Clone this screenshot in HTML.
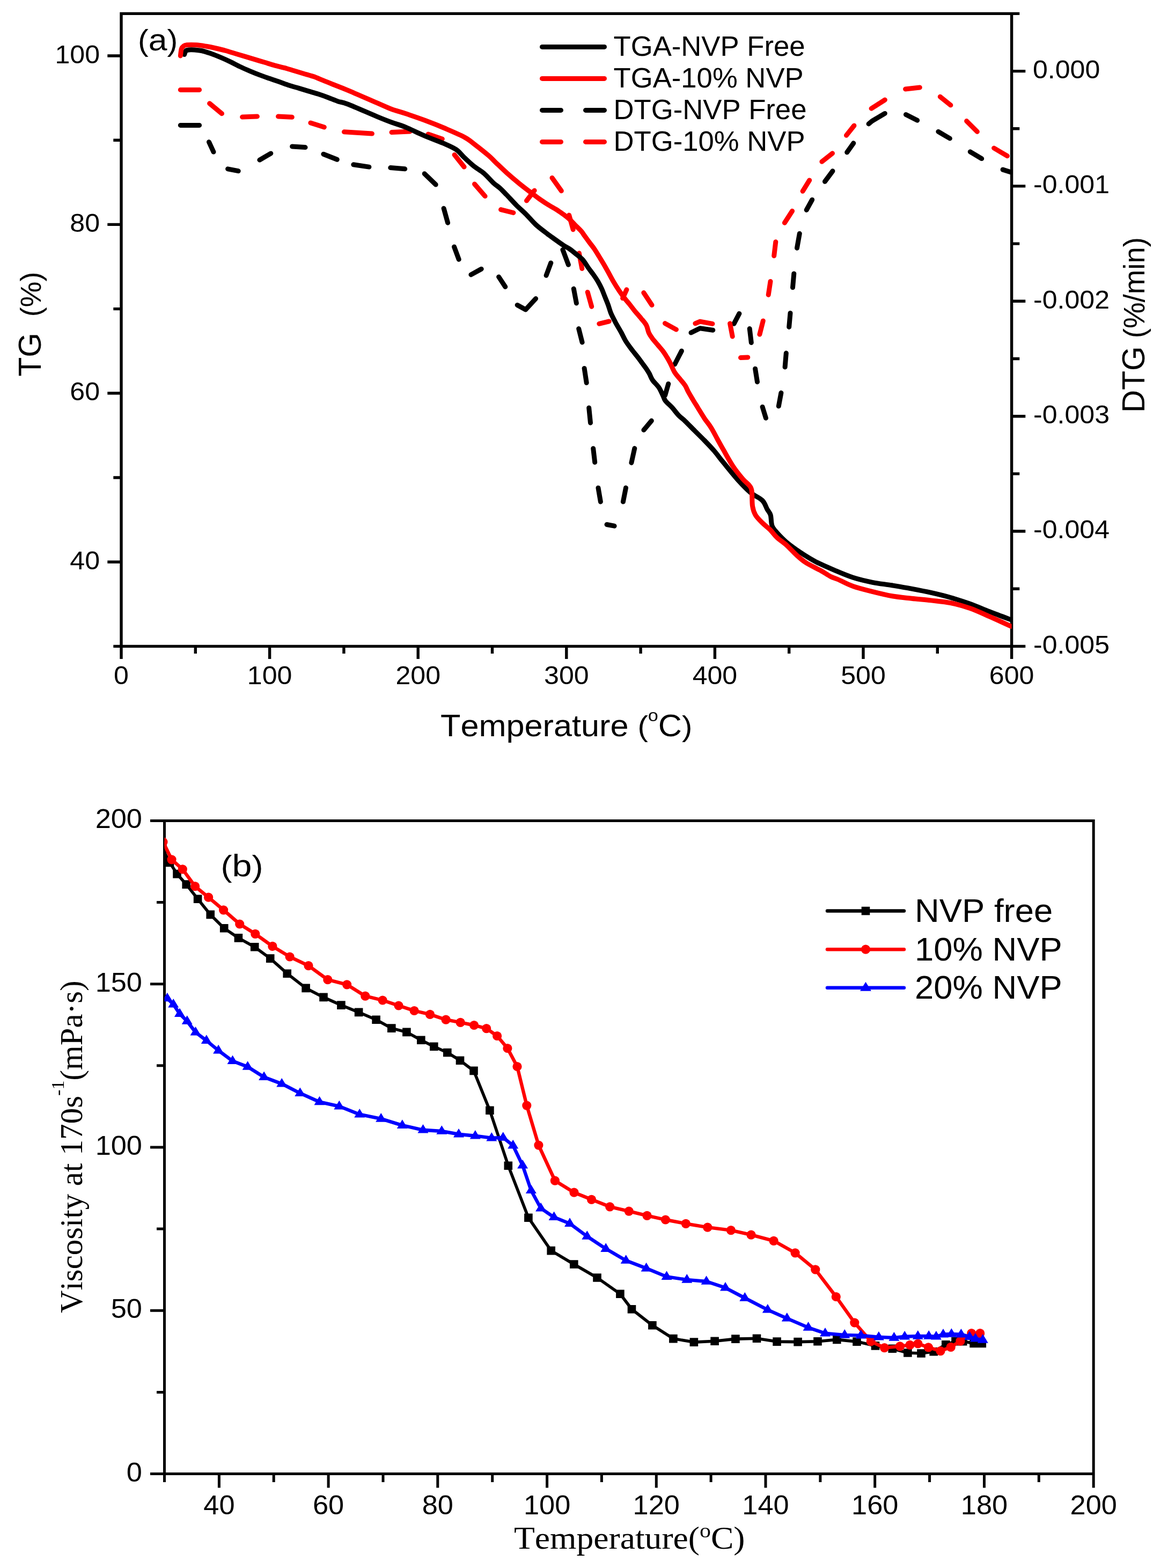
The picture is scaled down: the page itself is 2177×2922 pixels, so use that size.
<!DOCTYPE html><html><head><meta charset="utf-8"><title>TGA/DTG and viscosity</title>
<style>html,body{margin:0;padding:0;background:#fff;}svg{display:block;}text{font-kerning:none;font-feature-settings:"kern" 0;}</style></head><body>
<svg width="2177" height="2922" viewBox="0 0 2177 2922">
<rect width="2177" height="2922" fill="#fff"/>
<defs><clipPath id="ca"><rect x="226" y="25.4" width="1659.6" height="1179"/></clipPath>
<clipPath id="cb"><rect x="306.5" y="1529.4" width="1731.7" height="1217.1"/></clipPath></defs>
<path d="M226 25.4H1885.6V1204.4H226ZM226 1204.4H214M226 1047.2H203M226 890H214M226 732.8H203M226 575.6H214M226 418.4H203M226 261.2H214M226 104H203M1885.6 1204.4H1908.6M1885.6 1097.2H1897.6M1885.6 990H1908.6M1885.6 882.9H1897.6M1885.6 775.7H1908.6M1885.6 668.5H1897.6M1885.6 561.3H1908.6M1885.6 454.1H1897.6M1885.6 346.9H1908.6M1885.6 239.8H1897.6M1885.6 132.6H1908.6M1885.6 25.4H1897.6M226 1204.4V1225.4M364.3 1204.4V1215.4M502.6 1204.4V1225.4M640.9 1204.4V1215.4M779.2 1204.4V1225.4M917.5 1204.4V1215.4M1055.8 1204.4V1225.4M1194.1 1204.4V1215.4M1332.4 1204.4V1225.4M1470.7 1204.4V1215.4M1609 1204.4V1225.4M1747.3 1204.4V1215.4M1885.6 1204.4V1225.4" fill="none" stroke="#000" stroke-width="5.4" stroke-linecap="square"/>
<g clip-path="url(#ca)" fill="none" stroke-linejoin="round" stroke-linecap="round">
<path d="M336.3 233.4L371.6 233.4M389.5 264.6L398 283.1M424.6 314.8L444.2 318.7M483.9 298.1L504.8 285.9M544.6 273L569 274.6M602.9 287.2L628.3 297.3M658.8 306.8L687.9 311.1M727.8 312.6L754.7 314.8M791.2 323.7L812.2 344M827.1 388.3L834.6 415.2M846.5 459.9L855.2 483.4M877.9 511.9L897.2 501.3M929.6 515.9L941.8 534.5M964.2 568.5L979.7 577L998.6 556.5M1018.1 513.3L1026.8 489.9M1048.9 465.4L1059.4 493.3M1069.3 538.1L1074.4 565M1078.7 612.6L1085.1 637.9M1089.1 686.4L1093.2 713.3M1097.7 760L1100.5 787.9M1105.7 835.7L1108.7 861.4M1115 909.2L1119.4 935M1131 977.5L1145.1 980.2M1161.4 935.1L1166.5 909.1M1176.9 862.4L1182.8 835.6M1199.9 801.3L1214.3 784.1M1239.6 736.7L1245.8 715.3M1257.7 678.8L1270.4 654.1M1288 620.1L1304.7 611.7L1328.8 615.2M1368.1 603.2L1377.9 584.4M1397.2 612.5L1400.3 638.5M1407.6 687.2L1411.5 711.7M1421.1 758.3L1427.5 779.1M1451.3 756.9L1455.9 732.1M1463.1 684.1L1465.3 658.1M1470.7 609.4L1473 583.5M1477.5 535.8L1479.8 509.9M1485.5 462.2L1490.3 435.3M1503.2 391.3L1513.7 372.3M1537.5 338.3L1552 318.8M1578.7 283.8L1590.8 266.8M1619.1 230.9L1625.3 225.6L1649.3 211.4M1688.5 213.6L1709.7 224.3M1748.9 245.3L1770.4 258M1808.3 282.8L1829.7 295.6M1869.1 316.1L1885.1 321.1" stroke="#000" stroke-width="9"/>
<path d="M336.3 167.4L371.6 167.4M390.6 192.8L413.5 211.7M451.6 218L479.4 217M518.5 217L544.3 218.3M578.9 229L604.3 237M641.4 245.8L693.4 249.1M730 246.5L764.1 245M798.1 250L824.3 258.9M847.1 288.5L865.1 311.1M884.5 343L904.1 365.6M933.6 390.6L956.9 396.5M981.5 373.9L996.1 355.1M1029 331.4L1046.3 355.7M1060.7 400.9L1068.2 427.8M1079.4 471.8L1084.8 500.5M1095.2 544.4L1102.7 571.3M1116.8 603.3L1135.2 598.9M1160.6 555.8L1167.9 539.8M1199.8 545.5L1215 568.5M1239.5 602.6L1260.4 614.1M1295.9 602.8L1304.7 599.1L1327.9 603.4M1360.6 602.8L1365.2 627M1380.5 666.5L1393.8 665.9M1415.9 623.1L1422.3 597.9M1432.2 549.4L1436 524.4M1442.7 476.8L1445.8 450.8M1462.4 415.3L1476.6 393.2M1496.1 356.3L1508.7 335.9M1531.9 301.2L1551.5 285.7M1577.5 252.3L1591.9 234.1M1624.1 202.2L1649.4 186.1M1687.6 166L1714.3 163M1752.3 180.3L1771.9 195.9M1801.6 225.6L1821.4 245.4M1852.6 276L1877.4 290.7" stroke="#ff0000" stroke-width="9"/>
<path d="M343.6 101.5C344 100.5 345.2 96.8 346 95.5C346.8 94.2 346.3 94.1 348.2 93.6C350.1 93.1 352.7 92.5 357.2 92.7C361.7 92.9 369.3 93.3 375.4 94.5C381.5 95.7 387.6 97.9 393.6 100C399.7 102.1 405.6 104.6 411.7 107.2C417.8 109.8 423.8 112.5 429.9 115.4C435.9 118.3 441.9 121.6 448 124.5C454.1 127.4 460.1 130 466.2 132.6C472.3 135.2 478.3 137.6 484.4 139.9C490.4 142.2 496.4 144.2 502.5 146.3C508.6 148.4 514.7 150.5 520.7 152.6C526.8 154.7 532.8 157 538.8 159C544.8 161 551 162.6 557 164.4C563 166.2 569.1 168.1 575.1 169.9C581.1 171.7 587.2 173.3 593.3 175.3C599.4 177.3 605.4 179.4 611.5 181.7C617.6 184 623.9 186.8 630 188.9C636.1 191 635.8 189.3 647.9 194C660 198.7 688.7 211.4 702.4 217.1C716.1 222.8 721 224.7 730 228C739 231.3 745.9 232.9 756.3 237.2C766.7 241.5 780.5 248.4 792.6 253.6C804.7 258.8 819.3 263.9 829 268.1C838.7 272.3 844.7 274.8 850.7 279C856.8 283.2 859.8 288.4 865.3 293.5C870.8 298.6 877.3 304.9 883.4 309.8C889.5 314.7 895.5 317.4 901.6 322.6C907.7 327.8 914.9 336.5 920 341.2C925.1 345.9 928.1 347.2 932.1 350.8C936.1 354.4 939.2 357.8 944.2 363C949.2 368.2 956.4 376.2 962.4 382.3C968.4 388.4 974.5 393.2 980.5 399.3C986.5 405.4 992.6 413 998.7 418.6C1004.8 424.2 1010.9 428.6 1016.9 433.2C1022.9 437.8 1029.5 442.5 1035 446.5C1040.5 450.5 1045.5 454.1 1050 457C1054.5 459.9 1058.1 461.4 1062.1 464.2C1066.1 467 1070.2 470.6 1074.2 473.9C1078.2 477.2 1082.6 480 1086.3 484.2C1090 488.4 1093.2 494.4 1096.5 499C1099.8 503.6 1103.2 507.8 1106.2 512C1109.2 516.2 1111.8 520 1114.3 524.3C1116.8 528.6 1119.3 533.4 1121.4 537.9C1123.5 542.4 1124.8 546.4 1126.8 551.4C1128.8 556.4 1131.3 562.2 1133.3 567.6C1135.3 573 1136.5 578.4 1138.7 583.8C1141 589.2 1143.7 594.2 1146.8 600.1C1149.9 606 1154.4 613.2 1157.6 619C1160.8 624.8 1162.6 629.6 1165.9 635C1169.2 640.4 1173.6 646.2 1177.5 651.4C1181.4 656.6 1185.9 661.8 1189.1 666C1192.3 670.2 1194.4 673.2 1196.9 676.6C1199.4 680 1202 683.3 1204.2 686.6C1206.4 689.9 1208.3 692.7 1210.3 696.3C1212.3 699.9 1213.3 704.1 1216.3 708.4C1219.2 712.7 1224.7 717.1 1228 722C1231.3 726.9 1233.9 733.8 1236 738C1238.1 742.2 1237.7 743.7 1240.5 747.2C1243.3 750.8 1248.6 754.9 1252.6 759.3C1256.6 763.7 1260.7 769.6 1264.7 773.8C1268.8 778 1271.9 779.9 1276.9 784.7C1282 789.6 1289 796.9 1295 802.9C1301 808.9 1307.2 814.8 1313.2 821C1319.2 827.2 1325.5 833.6 1331.3 840.4C1337.1 847.2 1340.8 852.7 1348.2 861.7C1355.6 870.7 1366.9 885 1375.4 894.4C1383.9 903.8 1391.4 911.6 1399 918C1406.6 924.4 1415.6 927.4 1420.8 932.5C1426 937.6 1427.3 944.4 1429.9 948.9C1432.5 953.4 1434.7 954.7 1436.2 959.8C1437.7 964.9 1437 974.2 1439 979.7C1441 985.2 1443.5 987.4 1448 992.5C1452.5 997.6 1458.6 1004.2 1466.2 1010.6C1473.8 1017 1484.3 1024.5 1493.4 1030.6C1502.5 1036.6 1510.1 1041.5 1520.7 1046.9C1531.3 1052.4 1545.5 1058.4 1557 1063.3C1568.5 1068.2 1578.5 1072.6 1590 1076.3C1601.5 1080 1614.2 1082.9 1626.3 1085.3C1638.4 1087.7 1650.5 1088.8 1662.6 1090.8C1674.7 1092.8 1686.9 1094.8 1699 1097.1C1711.1 1099.4 1723.2 1101.7 1735.3 1104.4C1747.4 1107.1 1759.5 1110 1771.6 1113.5C1783.7 1117 1795.8 1120.9 1807.9 1125.3C1820 1129.7 1831.4 1134.8 1844.2 1139.8C1857 1144.8 1877.8 1152.5 1884.5 1155" stroke="#000" stroke-width="9"/>
<path d="M336.4 104C336.7 101.8 337.3 94 338.2 91C339.1 88 340.3 87.2 342 86C343.7 84.8 344.1 84.2 348.2 83.8C352.2 83.4 360.2 83.4 366.3 83.8C372.4 84.2 378.4 85.3 384.5 86.3C390.6 87.3 396.6 88.6 402.6 90C408.7 91.4 414.7 92.8 420.8 94.5C426.9 96.2 432.9 98.2 439 100C445.1 101.8 451.1 103.6 457.1 105.4C463.2 107.2 469.2 109.1 475.3 110.9C481.4 112.7 487.3 114.5 493.4 116.3C499.4 118.1 505.6 120.1 511.6 121.8C517.7 123.5 523.7 124.7 529.7 126.3C535.8 127.9 541.8 129.9 547.9 131.7C554 133.5 560 135.4 566.1 137.2C572.2 139 578.2 140.5 584.2 142.6C590.2 144.7 596.4 147.5 602.4 149.9C608.4 152.3 612.9 154.2 620.5 157.2C628.1 160.2 634.2 162.3 647.9 168.1C661.5 173.8 688.7 185.8 702.4 191.7C716.1 197.6 721 200.2 730 203.5C739 206.8 745.9 208.3 756.3 211.8C766.7 215.3 780.5 220 792.6 224.5C804.7 229 816.9 233.8 829 239C841.1 244.2 856.2 250.6 865.3 255.4C874.4 260.2 875.8 262.4 883.4 268.1C891 273.9 904 284.2 910.7 289.9C917.4 295.6 918 297.1 923.6 302.4C929.2 307.7 936.7 315.1 944.2 321.8C951.7 328.5 960.7 336.1 968.4 342.4C976.1 348.6 984.2 354.7 990.2 359.3C996.2 363.9 999.2 366.4 1004.7 370.2C1010.2 374 1016.8 378.5 1022.9 382.3C1029 386.1 1035 389.2 1041.1 393.2C1047.1 397.2 1054.2 402.3 1059.2 406.5C1064.2 410.7 1067.3 414.6 1071.3 418.6C1075.3 422.7 1080.4 427.4 1083.4 430.8C1086.4 434.2 1086.8 435.6 1089.3 439C1091.8 442.4 1095.4 447.4 1098.4 451.5C1101.4 455.6 1104.5 459.1 1107.5 463.5C1110.5 467.9 1113.6 473.1 1116.6 478C1119.6 482.9 1122.7 487.8 1125.7 493C1128.7 498.2 1131.7 503.6 1134.7 509C1137.7 514.4 1140.5 520 1143.8 525.5C1147 531 1150.8 537 1154.2 542C1157.6 547 1160.7 551.3 1163.9 555.5C1167.1 559.7 1170.4 563.2 1173.6 567.2C1176.8 571.2 1179.8 575.4 1183.3 579.8C1186.8 584.1 1191.4 588.9 1194.9 593.3C1198.5 597.6 1202.2 601.4 1204.6 605.9C1207 610.4 1207.5 616.2 1209.4 620.4C1211.3 624.6 1213.5 627.4 1216.2 631.1C1219 634.8 1222.7 638.8 1225.9 642.7C1229.1 646.6 1232.7 650.4 1235.6 654.3C1238.5 658.2 1241 662.3 1243.3 666C1245.6 669.7 1246.8 672 1249.2 676.6C1251.6 681.2 1254.5 689 1257.5 693.9C1260.5 698.8 1264 702 1267.2 706C1270.4 710 1274.3 714.1 1276.9 718.1C1279.5 722.1 1280.5 725.8 1282.9 730.2C1285.3 734.6 1288.4 739.7 1291.4 744.7C1294.4 749.8 1297.5 754.6 1301.1 760.5C1304.7 766.4 1309.2 773.9 1313.2 779.9C1317.2 785.9 1321.3 790.4 1325.3 796.8C1329.3 803.1 1333.2 811.1 1337 818C1340.8 824.9 1343.3 829.6 1348.2 838.1C1353.1 846.6 1360.2 859.9 1366.3 869C1372.3 878.1 1379.4 886.6 1384.5 892.6C1389.6 898.6 1394.2 901.4 1397 905.1C1399.8 908.8 1400.3 908.6 1401.2 915C1402.1 921.4 1401.4 935.9 1402.6 943.4C1403.8 950.9 1405.1 954.6 1408.1 959.8C1411.1 964.9 1416.3 969.8 1420.8 974.3C1425.3 978.8 1430.8 982.5 1435.3 987C1439.8 991.5 1442.8 996.6 1448 1001.5C1453.2 1006.4 1460.1 1010.6 1466.2 1016.1C1472.3 1021.6 1478.4 1028.8 1484.4 1034.2C1490.5 1039.7 1495 1044 1502.5 1048.8C1510 1053.6 1522.1 1059.1 1529.7 1063.3C1537.3 1067.5 1542.5 1071.4 1547.9 1074.2C1553.4 1077 1555.4 1076.9 1562.4 1080C1569.4 1083.1 1579.3 1088.8 1590 1092.6C1600.7 1096.4 1614.2 1099.6 1626.3 1102.6C1638.4 1105.6 1650.5 1108.7 1662.6 1110.8C1674.7 1112.9 1686.9 1113.9 1699 1115.3C1711.1 1116.7 1723.2 1117.5 1735.3 1118.9C1747.4 1120.3 1759.5 1121.1 1771.6 1123.5C1783.7 1125.9 1795.8 1129.3 1807.9 1133.5C1820 1137.7 1831.4 1143.3 1844.2 1148.9C1857 1154.5 1877.8 1164.2 1884.5 1167.2" stroke="#ff0000" stroke-width="9"/>
</g>
<text transform="translate(186,1060.8) scale(1.0590,1)" font-family='"Liberation Sans", Arial, sans-serif' font-size="47.3" text-anchor="end">40</text>
<text transform="translate(186,746.4) scale(1.0590,1)" font-family='"Liberation Sans", Arial, sans-serif' font-size="47.3" text-anchor="end">60</text>
<text transform="translate(186,432) scale(1.0590,1)" font-family='"Liberation Sans", Arial, sans-serif' font-size="47.3" text-anchor="end">80</text>
<text transform="translate(186,117.6) scale(1.0590,1)" font-family='"Liberation Sans", Arial, sans-serif' font-size="47.3" text-anchor="end">100</text>
<text transform="translate(226,1274.6) scale(1.0590,1)" font-family='"Liberation Sans", Arial, sans-serif' font-size="47.3" text-anchor="middle">0</text>
<text transform="translate(502.6,1274.6) scale(1.0590,1)" font-family='"Liberation Sans", Arial, sans-serif' font-size="47.3" text-anchor="middle">100</text>
<text transform="translate(779.2,1274.6) scale(1.0590,1)" font-family='"Liberation Sans", Arial, sans-serif' font-size="47.3" text-anchor="middle">200</text>
<text transform="translate(1055.8,1274.6) scale(1.0590,1)" font-family='"Liberation Sans", Arial, sans-serif' font-size="47.3" text-anchor="middle">300</text>
<text transform="translate(1332.4,1274.6) scale(1.0590,1)" font-family='"Liberation Sans", Arial, sans-serif' font-size="47.3" text-anchor="middle">400</text>
<text transform="translate(1609,1274.6) scale(1.0590,1)" font-family='"Liberation Sans", Arial, sans-serif' font-size="47.3" text-anchor="middle">500</text>
<text transform="translate(1885.6,1274.6) scale(1.0590,1)" font-family='"Liberation Sans", Arial, sans-serif' font-size="47.3" text-anchor="middle">600</text>
<text transform="translate(1926,1217.8) scale(1.0590,1)" font-family='"Liberation Sans", Arial, sans-serif' font-size="47.3" text-anchor="start">-0.005</text>
<text transform="translate(1926,1003.4) scale(1.0590,1)" font-family='"Liberation Sans", Arial, sans-serif' font-size="47.3" text-anchor="start">-0.004</text>
<text transform="translate(1926,789.1) scale(1.0590,1)" font-family='"Liberation Sans", Arial, sans-serif' font-size="47.3" text-anchor="start">-0.003</text>
<text transform="translate(1926,574.7) scale(1.0590,1)" font-family='"Liberation Sans", Arial, sans-serif' font-size="47.3" text-anchor="start">-0.002</text>
<text transform="translate(1926,360.3) scale(1.0590,1)" font-family='"Liberation Sans", Arial, sans-serif' font-size="47.3" text-anchor="start">-0.001</text>
<text transform="translate(1925,146) scale(1.0590,1)" font-family='"Liberation Sans", Arial, sans-serif' font-size="47.3" text-anchor="start">0.000</text>
<text transform="translate(76,701.5) rotate(-90)" font-family='"Liberation Sans", Arial, sans-serif' font-size="58.5" text-anchor="start">TG<tspan font-size="53.8">&#160;&#160;(%)</tspan></text>
<text transform="translate(2133,769) rotate(-90)" font-family='"Liberation Sans", Arial, sans-serif' font-size="58.5" text-anchor="start">DTG<tspan font-size="54.7">&#160;(%/min)</tspan></text>
<text transform="translate(821,1372.1) scale(1.0650,1)" font-family='"Liberation Sans", Arial, sans-serif' font-size="57.5" text-anchor="start">Temperature <tspan font-size="54.5">(</tspan><tspan font-size="32.2" dy="-27.8">o</tspan><tspan dy="27.8">C</tspan><tspan font-size="54.5">)</tspan></text>
<text transform="translate(257,93.5) scale(1.0820,1)" font-family='"Liberation Sans", Arial, sans-serif' font-size="57.8" text-anchor="start"><tspan font-size="54.9">(</tspan>a<tspan font-size="54.9">)</tspan></text>
<path d="M1010.5 87.4H1126.5" stroke="#000" stroke-width="9" stroke-linecap="round"/>
<text transform="translate(1143.5,103.9) scale(1.0250,1)" font-family='"Liberation Sans", Arial, sans-serif' font-size="51.4" text-anchor="start">TGA-NVP Free</text>
<path d="M1010.5 146.4H1126.5" stroke="#ff0000" stroke-width="9" stroke-linecap="round"/>
<text transform="translate(1143.5,162.9) scale(1.0250,1)" font-family='"Liberation Sans", Arial, sans-serif' font-size="51.4" text-anchor="start">TGA-10% NVP</text>
<path d="M1010.5 205.4H1045.5M1091.5 205.4H1126.5" stroke="#000" stroke-width="9" stroke-linecap="round"/>
<text transform="translate(1143.5,221.9) scale(1.0250,1)" font-family='"Liberation Sans", Arial, sans-serif' font-size="51.4" text-anchor="start">DTG-NVP Free</text>
<path d="M1010.5 264.4H1045.5M1091.5 264.4H1126.5" stroke="#ff0000" stroke-width="9" stroke-linecap="round"/>
<text transform="translate(1143.5,280.9) scale(1.0250,1)" font-family='"Liberation Sans", Arial, sans-serif' font-size="51.4" text-anchor="start">DTG-10% NVP</text>
<path d="M306.5 1529.4H2038.2V2746.5H306.5ZM306.5 2746.5H282.5M306.5 2594.4H294.5M306.5 2442.2H282.5M306.5 2290.1H294.5M306.5 2137.9H282.5M306.5 1985.8H294.5M306.5 1833.7H282.5M306.5 1681.5H294.5M306.5 1529.4H282.5M306.5 2746.5V2759.5M408.4 2746.5V2770M510.2 2746.5V2759.5M612.1 2746.5V2770M714 2746.5V2759.5M815.8 2746.5V2770M917.7 2746.5V2759.5M1019.6 2746.5V2770M1121.4 2746.5V2759.5M1223.3 2746.5V2770M1325.1 2746.5V2759.5M1427 2746.5V2770M1528.9 2746.5V2759.5M1630.7 2746.5V2770M1732.6 2746.5V2759.5M1834.5 2746.5V2770M1936.3 2746.5V2759.5M2038.2 2746.5V2770" fill="none" stroke="#000" stroke-width="5" stroke-linecap="square"/>
<g clip-path="url(#cb)">
<polyline points="303,1582 316.5,1607.5 330,1628.6 347.2,1648.1 368.6,1675.3 392.2,1704.4 417.7,1729.8 444.4,1747.9 474.7,1764.8 503.7,1786.1 535.2,1814.2 570.1,1841.4 603,1858.4 635.9,1873.1 668.6,1886.4 701.1,1900.3 729.8,1916.1 757.9,1923.4 784.8,1938.3 808.8,1950.3 833.8,1961.5 857.5,1976.2 883,1995.4 912.9,2069.2 947.3,2172.2 984.9,2269.2 1027.2,2330.6 1069.8,2356 1113,2381 1155.9,2411.2 1177.5,2439.7 1215.9,2469.7 1254.9,2494.6 1293.4,2501.1 1332.1,2499.3 1370.9,2495.1 1410.5,2494.2 1448.1,2500.1 1487.1,2500.6 1524,2499.7 1559.8,2496.4 1597,2500.1 1631.5,2507.9 1663.3,2513.3 1691.9,2521 1717,2522 1740.2,2518.8 1762.8,2505.7 1781,2499.6 1794.7,2499.6 1815.1,2503.5 1830.3,2503.5" fill="none" stroke="#000" stroke-width="5.6" stroke-linejoin="round"/>
<path d="M295.2 1574.2h15.6v15.6h-15.6ZM308.7 1599.7h15.6v15.6h-15.6ZM322.2 1620.8h15.6v15.6h-15.6ZM339.4 1640.3h15.6v15.6h-15.6ZM360.8 1667.5h15.6v15.6h-15.6ZM384.4 1696.6h15.6v15.6h-15.6ZM409.9 1722h15.6v15.6h-15.6ZM436.6 1740.1h15.6v15.6h-15.6ZM466.9 1757h15.6v15.6h-15.6ZM495.9 1778.3h15.6v15.6h-15.6ZM527.4 1806.4h15.6v15.6h-15.6ZM562.3 1833.6h15.6v15.6h-15.6ZM595.2 1850.6h15.6v15.6h-15.6ZM628.1 1865.3h15.6v15.6h-15.6ZM660.8 1878.6h15.6v15.6h-15.6ZM693.3 1892.5h15.6v15.6h-15.6ZM722 1908.3h15.6v15.6h-15.6ZM750.1 1915.6h15.6v15.6h-15.6ZM777 1930.5h15.6v15.6h-15.6ZM801 1942.5h15.6v15.6h-15.6ZM826 1953.7h15.6v15.6h-15.6ZM849.7 1968.4h15.6v15.6h-15.6ZM875.2 1987.6h15.6v15.6h-15.6ZM905.1 2061.4h15.6v15.6h-15.6ZM939.5 2164.4h15.6v15.6h-15.6ZM977.1 2261.4h15.6v15.6h-15.6ZM1019.4 2322.8h15.6v15.6h-15.6ZM1062 2348.2h15.6v15.6h-15.6ZM1105.2 2373.2h15.6v15.6h-15.6ZM1148.1 2403.4h15.6v15.6h-15.6ZM1169.7 2431.9h15.6v15.6h-15.6ZM1208.1 2461.9h15.6v15.6h-15.6ZM1247.1 2486.8h15.6v15.6h-15.6ZM1285.6 2493.3h15.6v15.6h-15.6ZM1324.3 2491.5h15.6v15.6h-15.6ZM1363.1 2487.3h15.6v15.6h-15.6ZM1402.7 2486.4h15.6v15.6h-15.6ZM1440.3 2492.3h15.6v15.6h-15.6ZM1479.3 2492.8h15.6v15.6h-15.6ZM1516.2 2491.9h15.6v15.6h-15.6ZM1552 2488.6h15.6v15.6h-15.6ZM1589.2 2492.3h15.6v15.6h-15.6ZM1623.7 2500.1h15.6v15.6h-15.6ZM1655.5 2505.5h15.6v15.6h-15.6ZM1684.1 2513.2h15.6v15.6h-15.6ZM1709.2 2514.2h15.6v15.6h-15.6ZM1732.4 2511h15.6v15.6h-15.6ZM1755 2497.9h15.6v15.6h-15.6ZM1773.2 2491.8h15.6v15.6h-15.6ZM1786.9 2491.8h15.6v15.6h-15.6ZM1807.3 2495.7h15.6v15.6h-15.6ZM1822.5 2495.7h15.6v15.6h-15.6Z" fill="#000"/>
<polyline points="304,1569 320,1601.8 340.3,1619.9 363.6,1651.7 388.6,1672.2 416.6,1695.8 446.7,1722 475.8,1740.3 507.9,1763.4 540.1,1783 575,1799.7 610.8,1825.7 646.6,1834.8 680.8,1856.2 713.1,1864 743,1874 772.1,1883.5 801.5,1890.4 831.1,1900.2 858.2,1905.4 883.6,1910.5 906.7,1916.7 926.6,1930.5 945.9,1953.5 964,1987.5 981.8,2060.1 1003.9,2134.1 1034.4,2200.2 1070,2222.2 1102.5,2235.3 1136.7,2248.8 1172.2,2257.1 1206,2265.3 1240.4,2273 1278.3,2280.3 1318.8,2287.2 1362.4,2292.7 1400,2301.2 1442.1,2312.3 1482.1,2334.8 1519.8,2365.9 1558.3,2416.5 1592.8,2464.8 1623.3,2499.7 1648.5,2511.6 1677.4,2508.9 1696,2506.4 1710.9,2504 1730.4,2510.8 1753,2517.6 1772.2,2510.4 1789.9,2499.2 1810.7,2484.7 1826.7,2484.7" fill="none" stroke="#ff0000" stroke-width="6.4" stroke-linejoin="round"/>
<g fill="#ff0000"><circle cx="304" cy="1569" r="8.6"/><circle cx="320" cy="1601.8" r="8.6"/><circle cx="340.3" cy="1619.9" r="8.6"/><circle cx="363.6" cy="1651.7" r="8.6"/><circle cx="388.6" cy="1672.2" r="8.6"/><circle cx="416.6" cy="1695.8" r="8.6"/><circle cx="446.7" cy="1722" r="8.6"/><circle cx="475.8" cy="1740.3" r="8.6"/><circle cx="507.9" cy="1763.4" r="8.6"/><circle cx="540.1" cy="1783" r="8.6"/><circle cx="575" cy="1799.7" r="8.6"/><circle cx="610.8" cy="1825.7" r="8.6"/><circle cx="646.6" cy="1834.8" r="8.6"/><circle cx="680.8" cy="1856.2" r="8.6"/><circle cx="713.1" cy="1864" r="8.6"/><circle cx="743" cy="1874" r="8.6"/><circle cx="772.1" cy="1883.5" r="8.6"/><circle cx="801.5" cy="1890.4" r="8.6"/><circle cx="831.1" cy="1900.2" r="8.6"/><circle cx="858.2" cy="1905.4" r="8.6"/><circle cx="883.6" cy="1910.5" r="8.6"/><circle cx="906.7" cy="1916.7" r="8.6"/><circle cx="926.6" cy="1930.5" r="8.6"/><circle cx="945.9" cy="1953.5" r="8.6"/><circle cx="964" cy="1987.5" r="8.6"/><circle cx="981.8" cy="2060.1" r="8.6"/><circle cx="1003.9" cy="2134.1" r="8.6"/><circle cx="1034.4" cy="2200.2" r="8.6"/><circle cx="1070" cy="2222.2" r="8.6"/><circle cx="1102.5" cy="2235.3" r="8.6"/><circle cx="1136.7" cy="2248.8" r="8.6"/><circle cx="1172.2" cy="2257.1" r="8.6"/><circle cx="1206" cy="2265.3" r="8.6"/><circle cx="1240.4" cy="2273" r="8.6"/><circle cx="1278.3" cy="2280.3" r="8.6"/><circle cx="1318.8" cy="2287.2" r="8.6"/><circle cx="1362.4" cy="2292.7" r="8.6"/><circle cx="1400" cy="2301.2" r="8.6"/><circle cx="1442.1" cy="2312.3" r="8.6"/><circle cx="1482.1" cy="2334.8" r="8.6"/><circle cx="1519.8" cy="2365.9" r="8.6"/><circle cx="1558.3" cy="2416.5" r="8.6"/><circle cx="1592.8" cy="2464.8" r="8.6"/><circle cx="1623.3" cy="2499.7" r="8.6"/><circle cx="1648.5" cy="2511.6" r="8.6"/><circle cx="1677.4" cy="2508.9" r="8.6"/><circle cx="1696" cy="2506.4" r="8.6"/><circle cx="1710.9" cy="2504" r="8.6"/><circle cx="1730.4" cy="2510.8" r="8.6"/><circle cx="1753" cy="2517.6" r="8.6"/><circle cx="1772.2" cy="2510.4" r="8.6"/><circle cx="1789.9" cy="2499.2" r="8.6"/><circle cx="1810.7" cy="2484.7" r="8.6"/><circle cx="1826.7" cy="2484.7" r="8.6"/></g>
<polyline points="311.8,1860.5 323.2,1871.7 334.9,1889.2 348.7,1903 364.5,1923.7 384.8,1939.1 407.1,1957.6 433.5,1977.2 461.6,1988 492.1,2007.2 525.2,2019.7 559.3,2037.2 595.5,2053.5 632.3,2061.6 670.2,2076.7 710.2,2084.9 749.8,2097.1 788.5,2105.8 823.3,2108 855,2113.7 885.8,2116.7 916.3,2120.7 937.7,2120 956.2,2134.6 974.1,2171.8 989.9,2218.3 1008.1,2251.7 1032.6,2268.3 1062,2280.1 1094.3,2304 1129.2,2327.1 1166.7,2349 1204.6,2363.6 1242.5,2379.1 1280.3,2384.9 1316.6,2388 1352,2399.8 1388.3,2418.9 1430.8,2440.8 1466.8,2456.8 1506.6,2473.9 1538,2484.8 1574.3,2487.9 1604.6,2488.6 1637.9,2491.7 1666.4,2492.9 1686.2,2490.7 1710.8,2489.9 1731.2,2489.9 1744.9,2490.7 1758,2486.7 1773.4,2486 1791.4,2486.7 1807.1,2491.1 1818,2494.7 1831.8,2496.9" fill="none" stroke="#0000ff" stroke-width="6.4" stroke-linejoin="round"/>
<path d="M311.8 1849.7L321.8 1866.3L301.8 1866.3ZM323.2 1860.9L333.2 1877.5L313.2 1877.5ZM334.9 1878.4L344.9 1895L324.9 1895ZM348.7 1892.2L358.7 1908.8L338.7 1908.8ZM364.5 1912.9L374.5 1929.5L354.5 1929.5ZM384.8 1928.3L394.8 1944.9L374.8 1944.9ZM407.1 1946.8L417.1 1963.4L397.1 1963.4ZM433.5 1966.4L443.5 1983L423.5 1983ZM461.6 1977.2L471.6 1993.8L451.6 1993.8ZM492.1 1996.4L502.1 2013L482.1 2013ZM525.2 2008.9L535.2 2025.5L515.2 2025.5ZM559.3 2026.4L569.3 2043L549.3 2043ZM595.5 2042.7L605.5 2059.3L585.5 2059.3ZM632.3 2050.8L642.3 2067.4L622.3 2067.4ZM670.2 2065.9L680.2 2082.5L660.2 2082.5ZM710.2 2074.1L720.2 2090.7L700.2 2090.7ZM749.8 2086.3L759.8 2102.9L739.8 2102.9ZM788.5 2095L798.5 2111.6L778.5 2111.6ZM823.3 2097.2L833.3 2113.8L813.3 2113.8ZM855 2102.9L865 2119.5L845 2119.5ZM885.8 2105.9L895.8 2122.5L875.8 2122.5ZM916.3 2109.9L926.3 2126.5L906.3 2126.5ZM937.7 2109.2L947.7 2125.8L927.7 2125.8ZM956.2 2123.8L966.2 2140.4L946.2 2140.4ZM974.1 2161L984.1 2177.6L964.1 2177.6ZM989.9 2207.5L999.9 2224.1L979.9 2224.1ZM1008.1 2240.9L1018.1 2257.5L998.1 2257.5ZM1032.6 2257.5L1042.6 2274.1L1022.6 2274.1ZM1062 2269.3L1072 2285.9L1052 2285.9ZM1094.3 2293.2L1104.3 2309.8L1084.3 2309.8ZM1129.2 2316.3L1139.2 2332.9L1119.2 2332.9ZM1166.7 2338.2L1176.7 2354.8L1156.7 2354.8ZM1204.6 2352.8L1214.6 2369.4L1194.6 2369.4ZM1242.5 2368.3L1252.5 2384.9L1232.5 2384.9ZM1280.3 2374.1L1290.3 2390.7L1270.3 2390.7ZM1316.6 2377.2L1326.6 2393.8L1306.6 2393.8ZM1352 2389L1362 2405.6L1342 2405.6ZM1388.3 2408.1L1398.3 2424.7L1378.3 2424.7ZM1430.8 2430L1440.8 2446.6L1420.8 2446.6ZM1466.8 2446L1476.8 2462.6L1456.8 2462.6ZM1506.6 2463.1L1516.6 2479.7L1496.6 2479.7ZM1538 2474L1548 2490.6L1528 2490.6ZM1574.3 2477.1L1584.3 2493.7L1564.3 2493.7ZM1604.6 2477.8L1614.6 2494.4L1594.6 2494.4ZM1637.9 2480.9L1647.9 2497.5L1627.9 2497.5ZM1666.4 2482.1L1676.4 2498.7L1656.4 2498.7ZM1686.2 2479.9L1696.2 2496.5L1676.2 2496.5ZM1710.8 2479.1L1720.8 2495.7L1700.8 2495.7ZM1731.2 2479.1L1741.2 2495.7L1721.2 2495.7ZM1744.9 2479.9L1754.9 2496.5L1734.9 2496.5ZM1758 2475.9L1768 2492.5L1748 2492.5ZM1773.4 2475.2L1783.4 2491.8L1763.4 2491.8ZM1791.4 2475.9L1801.4 2492.5L1781.4 2492.5ZM1807.1 2480.3L1817.1 2496.9L1797.1 2496.9ZM1818 2483.9L1828 2500.5L1808 2500.5ZM1831.8 2486.1L1841.8 2502.7L1821.8 2502.7Z" fill="#0000ff"/>
</g>
<text transform="translate(265,2760.5) scale(1.0330,1)" font-family='"Liberation Sans", Arial, sans-serif' font-size="50.7" text-anchor="end">0</text>
<text transform="translate(265,2456.2) scale(1.0330,1)" font-family='"Liberation Sans", Arial, sans-serif' font-size="50.7" text-anchor="end">50</text>
<text transform="translate(265,2151.9) scale(1.0330,1)" font-family='"Liberation Sans", Arial, sans-serif' font-size="50.7" text-anchor="end">100</text>
<text transform="translate(265,1847.7) scale(1.0330,1)" font-family='"Liberation Sans", Arial, sans-serif' font-size="50.7" text-anchor="end">150</text>
<text transform="translate(265,1543.4) scale(1.0330,1)" font-family='"Liberation Sans", Arial, sans-serif' font-size="50.7" text-anchor="end">200</text>
<text transform="translate(408.4,2822.3) scale(1.0330,1)" font-family='"Liberation Sans", Arial, sans-serif' font-size="50.7" text-anchor="middle">40</text>
<text transform="translate(612.1,2822.3) scale(1.0330,1)" font-family='"Liberation Sans", Arial, sans-serif' font-size="50.7" text-anchor="middle">60</text>
<text transform="translate(815.8,2822.3) scale(1.0330,1)" font-family='"Liberation Sans", Arial, sans-serif' font-size="50.7" text-anchor="middle">80</text>
<text transform="translate(1019.6,2822.3) scale(1.0330,1)" font-family='"Liberation Sans", Arial, sans-serif' font-size="50.7" text-anchor="middle">100</text>
<text transform="translate(1223.3,2822.3) scale(1.0330,1)" font-family='"Liberation Sans", Arial, sans-serif' font-size="50.7" text-anchor="middle">120</text>
<text transform="translate(1427,2822.3) scale(1.0330,1)" font-family='"Liberation Sans", Arial, sans-serif' font-size="50.7" text-anchor="middle">140</text>
<text transform="translate(1630.7,2822.3) scale(1.0330,1)" font-family='"Liberation Sans", Arial, sans-serif' font-size="50.7" text-anchor="middle">160</text>
<text transform="translate(1834.5,2822.3) scale(1.0330,1)" font-family='"Liberation Sans", Arial, sans-serif' font-size="50.7" text-anchor="middle">180</text>
<text transform="translate(2038.2,2822.3) scale(1.0330,1)" font-family='"Liberation Sans", Arial, sans-serif' font-size="50.7" text-anchor="middle">200</text>
<text transform="translate(411.5,1632.9) scale(1.1420,1)" font-family='"Liberation Sans", Arial, sans-serif' font-size="58.1" text-anchor="start"><tspan font-size="55.2">(</tspan>b<tspan font-size="55.2">)</tspan></text>
<text transform="translate(152.5,2447) rotate(-90)" font-family='"Liberation Serif", "Times New Roman", serif' font-size="58.8" text-anchor="start">Viscosity at 170s<tspan font-size="34.1" dy="-33.7">-1</tspan><tspan dy="33.7" font-size="58.8">(mPa&#183;s)</tspan></text>
<text transform="translate(958,2886.3) scale(1.0780,1)" font-family='"Liberation Serif", "Times New Roman", serif' font-size="59" text-anchor="start">Temperature(<tspan font-size="38.9" dy="-21.7">o</tspan><tspan dy="21.7">C)</tspan></text>
<path d="M1542 1697.5H1685" stroke="#000" stroke-width="6.4" stroke-linecap="round"/>
<rect x="1605.7" y="1689.7" width="15.6" height="15.6" fill="#000"/>
<text transform="translate(1705,1718.1) scale(1.0260,1)" font-family='"Liberation Sans", Arial, sans-serif' font-size="61.8" text-anchor="start">NVP free</text>
<path d="M1542 1769.2H1685" stroke="#ff0000" stroke-width="6.4" stroke-linecap="round"/>
<circle cx="1613.5" cy="1769.2" r="8.6" fill="#ff0000"/>
<text transform="translate(1705,1789.8) scale(1.0260,1)" font-family='"Liberation Sans", Arial, sans-serif' font-size="61.8" text-anchor="start">10% NVP</text>
<path d="M1542 1840.7H1685" stroke="#0000ff" stroke-width="6.4" stroke-linecap="round"/>
<path d="M1613.5 1829.7L1624 1846.7L1603 1846.7Z" fill="#0000ff"/>
<text transform="translate(1705,1861.3) scale(1.0260,1)" font-family='"Liberation Sans", Arial, sans-serif' font-size="61.8" text-anchor="start">20% NVP</text>
</svg></body></html>
